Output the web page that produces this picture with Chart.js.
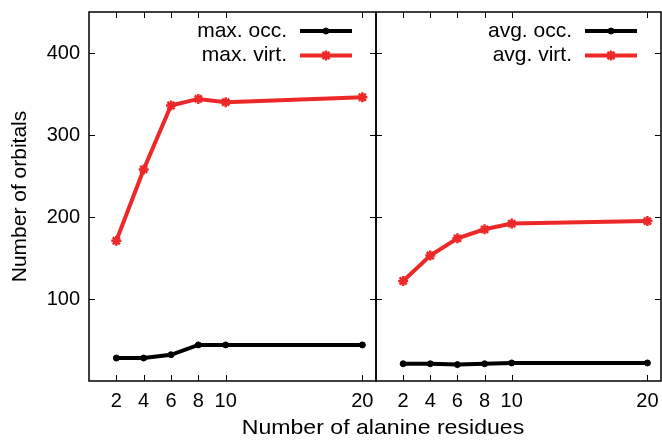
<!DOCTYPE html>
<html>
<head>
<meta charset="utf-8">
<script src="https://cdn.jsdelivr.net/npm/chart.js@4.4.0/dist/chart.umd.min.js"></script>
<style>
  body { margin: 0; background: #fff; }
  #wrap { position: relative; width: 662px; height: 441px; overflow: hidden; }
  #left { position: absolute; left: 0; top: 0; }
  #right { position: absolute; left: 375px; top: 0; }
  #xtitle {
    position: absolute; left: 183px; top: 416px; width: 400px;
    text-align: center; font: 21px 'Liberation Sans', Arial, sans-serif;
    line-height: 21px; color: #000; transform: scaleX(1.1);
  }
</style>
</head>
<body>
<div id="wrap">
  <canvas id="left" width="377" height="441"></canvas>
  <canvas id="right" width="287" height="441"></canvas>
  <div id="xtitle">Number of alanine residues</div>
</div>
<script>
const residues = [2, 4, 6, 8, 10, 20];
const maxOcc = [28, 28, 32, 44, 44, 44];
const maxVirt = [171, 258, 336, 344, 340, 346];
const avgOcc = [21, 21, 20, 21, 22, 22];
const avgVirt = [122, 153, 174, 185, 192, 195];
const xTicks = [2, 4, 6, 8, 10, 20];
const yTicks = [100, 200, 300, 400];

const red = '#ec2828'

Chart.defaults.font.family = "'Liberation Sans', Arial, sans-serif"
Chart.defaults.color = '#000'

function pts(vals) {
  return residues.map((r, i) => ({x: r, y: vals[i]}))
}

function occSet(label, vals) {
  return {
    label: label, data: pts(vals),
    borderColor: '#000', backgroundColor: '#000',
    borderWidth: 4, pointStyle: 'circle', pointRadius: 3, pointBorderWidth: 1,
    tension: 0, clip: false
  }
}

function virtSet(label, vals) {
  return {
    label: label, data: pts(vals),
    borderColor: red, backgroundColor: red,
    borderWidth: 4, pointStyle: 'star', pointRadius: 5, pointBorderWidth: 2.5,
    tension: 0, clip: false
  }
}

// frame with inward ticks, like the gnuplot border
const framePlugin = {
  id: 'frame',
  afterDraw(chart) {
    const {ctx, chartArea: {left, right, top, bottom}, scales} = chart
    ctx.save()
    ctx.strokeStyle = '#000'
    ctx.lineWidth = 1.5
    ctx.strokeRect(left, top, right - left, bottom - top)
    ctx.lineWidth = 1
    ctx.beginPath()
    xTicks.forEach(v => {
      const px = Math.round(scales.x.getPixelForValue(v)) + 0.5
      ctx.moveTo(px, bottom); ctx.lineTo(px, bottom - 6)
      ctx.moveTo(px, top); ctx.lineTo(px, top + 6)
    })
    yTicks.forEach(v => {
      const py = Math.round(scales.y.getPixelForValue(v)) + 0.5
      ctx.moveTo(left, py); ctx.lineTo(left + 6, py)
      ctx.moveTo(right, py); ctx.lineTo(right - 6, py)
    })
    ctx.stroke()
    ctx.restore()
  }
}

// legend in the top right corner: text, then line sample with its marker
const keyPlugin = {
  id: 'key',
  afterDraw(chart) {
    const {ctx, chartArea: {right, top}} = chart
    ctx.save()
    chart.data.datasets.forEach((ds, i) => {
      const y = top + 19 + i * 24.5
      ctx.font = "21px 'Liberation Sans', Arial, sans-serif"
      ctx.fillStyle = '#000'
      ctx.textAlign = 'right'
      ctx.textBaseline = 'middle'
      ctx.fillText(ds.label, right - 89, y)
      ctx.strokeStyle = ds.borderColor
      ctx.lineWidth = 4
      ctx.beginPath()
      ctx.moveTo(right - 76, y)
      ctx.lineTo(right - 24, y)
      ctx.stroke()
      ctx.fillStyle = ds.backgroundColor
      ctx.lineWidth = ds.pointBorderWidth
      Chart.helpers.drawPoint(ctx, {pointStyle: ds.pointStyle, radius: ds.pointRadius, rotation: 0, borderWidth: ds.pointBorderWidth}, right - 50, y)
    })
    ctx.restore()
  }
}

function xScale() {
  return {
    type: 'linear', min: 0, max: 21,
    afterBuildTicks: s => { s.ticks = xTicks.map(v => ({value: v})) },
    afterFit: s => {
      s.height = 60
      s.paddingLeft = 0
      s.paddingRight = 0
    },
    grid: {display: false, drawTicks: false},
    border: {display: false},
    ticks: {padding: 8, autoSkip: false, maxRotation: 0, font: {size: 20}}
  }
}

new Chart(document.getElementById('left'), {
  type: 'line',
  data: {datasets: [occSet('max. occ.', maxOcc), virtSet('max. virt.', maxVirt)]},
  options: {
    responsive: false,
    animation: false,
    layout: {autoPadding: false, padding: {top: 12, right: 1, bottom: 0, left: 0}},
    plugins: {legend: {display: false}, tooltip: {enabled: false}},
    scales: {
      x: xScale(),
      y: {
        min: 0, max: 450,
        afterBuildTicks: s => { s.ticks = yTicks.map(v => ({value: v})) },
        afterFit: s => {
          s.width = 89
          s.paddingTop = 0
          s.paddingBottom = 0
        },
        grid: {display: false, drawTicks: false},
        border: {display: false},
        ticks: {padding: 9, font: {size: 20}},
        title: {display: true, text: 'Number of orbitals', font: {size: 21}, padding: {top: 8, bottom: 0}}
      }
    }
  },
  plugins: [framePlugin, keyPlugin]
})

new Chart(document.getElementById('right'), {
  type: 'line',
  data: {datasets: [occSet('avg. occ.', avgOcc), virtSet('avg. virt.', avgVirt)]},
  options: {
    responsive: false,
    animation: false,
    layout: {autoPadding: false, padding: {top: 12, right: 1, bottom: 0, left: 1}},
    plugins: {legend: {display: false}, tooltip: {enabled: false}},
    scales: {
      x: xScale(),
      y: {display: false, min: 0, max: 450}
    }
  },
  plugins: [framePlugin, keyPlugin]
})
</script>
</body>
</html>
